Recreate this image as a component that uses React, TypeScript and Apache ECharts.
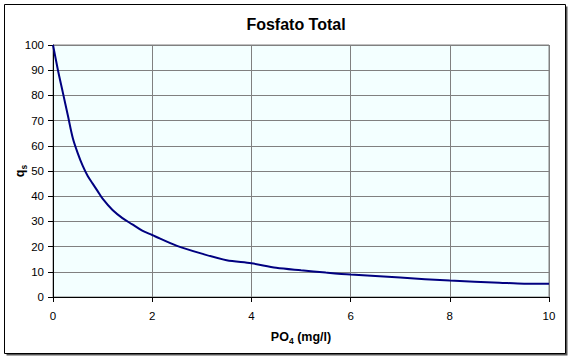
import React, { useEffect, useRef } from "react";
import * as echarts from "echarts";

const titleText = "Fosfato Total";
const po4Values = [0, 0.1, 0.2, 0.3, 0.4, 0.5, 0.6, 0.7, 0.8, 0.9, 1.0, 1.2, 1.4, 1.6, 1.8, 2.0, 2.5, 3.0, 3.5, 4.0, 4.5, 5.0, 5.5, 6.0, 7.0, 8.0, 9.0, 9.5, 10];
const qsValues = [100, 90, 81, 72, 63, 57, 52, 48, 45, 42, 39, 34.5, 31.3, 28.8, 26.3, 24.6, 20.3, 17.2, 14.6, 13.4, 11.6, 10.6, 9.7, 8.9, 7.7, 6.5, 5.7, 5.3, 5.3];
const xTicks = [0, 2, 4, 6, 8, 10];
const yTicks = [0, 10, 20, 30, 40, 50, 60, 70, 80, 90, 100];

export default function App() {
  const ref = useRef<HTMLDivElement>(null);
  useEffect(() => {
    if (!ref.current) return;
    const chart = echarts.init(ref.current, null, { renderer: "svg" });
    const font = "Arial, 'Liberation Sans', sans-serif";
    const data = po4Values.map((x, i) => [x, qsValues[i]]);
    const rich = {
      a: { fontFamily: font, fontSize: 12.5, fontWeight: "bold", color: "#000", lineHeight: 15, verticalAlign: "bottom" },
      s: { fontFamily: font, fontSize: 8.5, fontWeight: "bold", color: "#000", lineHeight: 15, verticalAlign: "bottom", padding: [0, 0, -2, 0] },
    };
    chart.setOption({
      animation: false,
      backgroundColor: "#ffffff",
      textStyle: { fontFamily: font },
      title: {
        text: titleText,
        left: 291,
        top: 11,
        textAlign: "center",
        textStyle: { fontFamily: font, fontSize: 16, fontWeight: "bold", color: "#000" },
      },
      graphic: [
        { type: "rect", shape: { x: 6.5, y: 6.5, width: 561, height: 349 }, style: { fill: "#555", stroke: null }, silent: true, z: -10 },
        { type: "rect", shape: { x: 4.5, y: 4.5, width: 561, height: 349 }, style: { fill: "#fff", stroke: "#000", lineWidth: 1 }, silent: true, z: -9 },
      ],
      grid: {
        left: 53,
        right: 22,
        top: 45,
        bottom: 63,
        show: true,
        containLabel: false,
        outerBoundsMode: "none",
        backgroundColor: "#F3FFFF",
        borderColor: "#808080",
        borderWidth: 1,
        z: 0,
      },
      xAxis: {
        type: "value",
        min: 0,
        max: 10,
        interval: 2,
        name: "{a|PO}{s|4}{a| (mg/l)}",
        nameLocation: "middle",
        nameGap: 31,
        nameMoveOverlap: false,
        nameTextStyle: { rich },
        axisLine: { show: true, lineStyle: { color: "#000", width: 1 } },
        axisTick: { show: true, length: 5, inside: false, lineStyle: { color: "#000" } },
        axisLabel: { fontFamily: font, fontSize: 11.5, color: "#000", margin: 13 },
        splitLine: { show: true, lineStyle: { color: "#808080", width: 1 } },
      },
      yAxis: {
        type: "value",
        min: 0,
        max: 100,
        interval: 10,
        name: "{a|q}{s|s}",
        nameLocation: "middle",
        nameRotate: 90,
        nameGap: 27,
        nameMoveOverlap: false,
        nameTextStyle: { rich },
        axisLine: { show: true, lineStyle: { color: "#000", width: 1 } },
        axisTick: { show: true, length: 5, inside: false, lineStyle: { color: "#000" } },
        axisLabel: { fontFamily: font, fontSize: 11.5, color: "#000", margin: 9 },
        splitLine: { show: true, lineStyle: { color: "#808080", width: 1 } },
      },
      series: [
        {
          type: "line",
          data,
          smooth: 0.3,
          symbol: "none",
          lineStyle: { color: "#000080", width: 2 },
          z: 5,
        },
      ],
    });
    return () => chart.dispose();
  }, []);
  return (
    <div
      ref={ref}
      style={{ position: "fixed", left: 0, top: 0, width: 571, height: 360 }}
    />
  );
}
